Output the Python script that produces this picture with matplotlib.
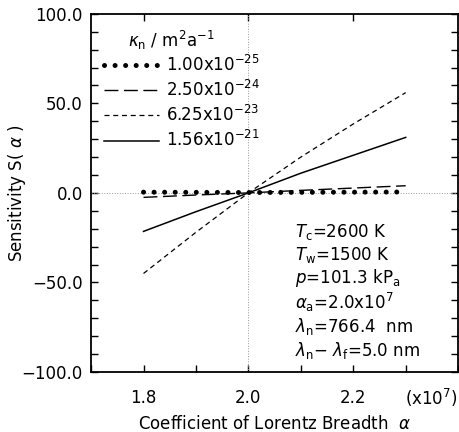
import matplotlib
matplotlib.use('Agg')
import matplotlib.pyplot as plt
from matplotlib.ticker import MultipleLocator

plt.rcParams['font.family'] = ['DejaVu Sans']
plt.rcParams['mathtext.fontset'] = 'dejavusans'

alpha = [1.8, 1.9, 2.0, 2.1, 2.2, 2.3]
s_k1 = [0.4, 0.3, 0.2, 0.3, 0.4, 0.5]          # 1.00x10^-25
s_k2 = [-2.5, -1.2, 0.0, 1.4, 2.7, 4.0]        # 2.50x10^-24
s_k3 = [-45.0, -22.0, 0.0, 20.0, 38.5, 56.0]   # 6.25x10^-23
s_k4 = [-21.5, -10.5, 0.0, 11.0, 21.0, 31.0]   # 1.56x10^-21

labels = [r'1.00x10$^{-25}$', r'2.50x10$^{-24}$', r'6.25x10$^{-23}$', r'1.56x10$^{-21}$']

params = [r'$T_{\rm c}$=2600 K', r'$T_{\rm w}$=1500 K', r'$p$=101.3 kP$_{\rm a}$',
          r'$\alpha_{\rm a}$=2.0x10$^7$', r'$\lambda_{\rm n}$=766.4  nm',
          r'$\lambda_{\rm n}$$-$ $\lambda_{\rm f}$=5.0 nm']

FS = 12

fig = plt.figure(figsize=(4.6, 4.32), dpi=100)
ax = fig.add_axes([0.198, 0.139, 0.798, 0.829])

ax.axvline(2.0, color='#999999', lw=0.7, ls=':')
ax.axhline(0.0, color='#999999', lw=0.7, ls=':')

dot_style = dict(color='k', lw=3.6, ls=(0, (0.01, 2.1)), dash_capstyle='round')
h1, = ax.plot(alpha, s_k1, **dot_style)
h2, = ax.plot(alpha, s_k2, color='k', lw=1.0, dashes=(10, 4))
h3, = ax.plot(alpha, s_k3, color='k', lw=0.9, dashes=(4, 3))
h4, = ax.plot(alpha, s_k4, color='k', lw=1.1)

leg = ax.legend([h1, h2, h3, h4], labels, loc='upper left',
                bbox_to_anchor=(0.035, 0.885), frameon=False, fontsize=FS,
                handlelength=3.3, handletextpad=0.45, labelspacing=0.3,
                borderaxespad=0, borderpad=0)
ax.text(0.1, 0.927, r'$\kappa_{\rm n}$ / m$^2$a$^{-1}$', transform=ax.transAxes,
        fontsize=FS, va='center')

ys = [0.391, 0.327, 0.263, 0.193, 0.126, 0.061]
for t, y in zip(params, ys):
    ax.text(0.556, y, t, transform=ax.transAxes, fontsize=FS, va='center')

ax.set_xlim(1.7, 2.4)
ax.set_ylim(-100, 100)
ax.set_xticks([1.8, 2.0, 2.2])
ax.set_xticklabels(['1.8', '2.0', '2.2'])
ax.xaxis.set_minor_locator(MultipleLocator(0.1))
ax.yaxis.set_major_locator(MultipleLocator(50))
ax.yaxis.set_minor_locator(MultipleLocator(10))
ax.set_yticklabels([f'{v:.1f}'.replace('-', '\u2212') for v in ax.get_yticks()])
ax.tick_params(which='both', direction='in', top=True, right=True, labelsize=FS)
ax.tick_params(which='both', length=5, width=1)
ax.tick_params(axis='x', which='minor', top=False)
ax.tick_params(axis='x', pad=12)
ax.tick_params(axis='y', pad=6)
for sp in ax.spines.values():
    sp.set_linewidth(1.3)

ax.set_xlabel(r'Coefficient of Lorentz Breadth  $\alpha$', fontsize=FS, labelpad=6)
ax.set_ylabel(r'Sensitivity S( $\alpha$ )', fontsize=FS)
ax.yaxis.set_label_coords(-0.172, 0.5)
ax.text(0.999, -0.073, r'(x10$^7$)', transform=ax.transAxes, fontsize=FS,
        ha='right', va='center')

fig.savefig('out.png', dpi=100)
